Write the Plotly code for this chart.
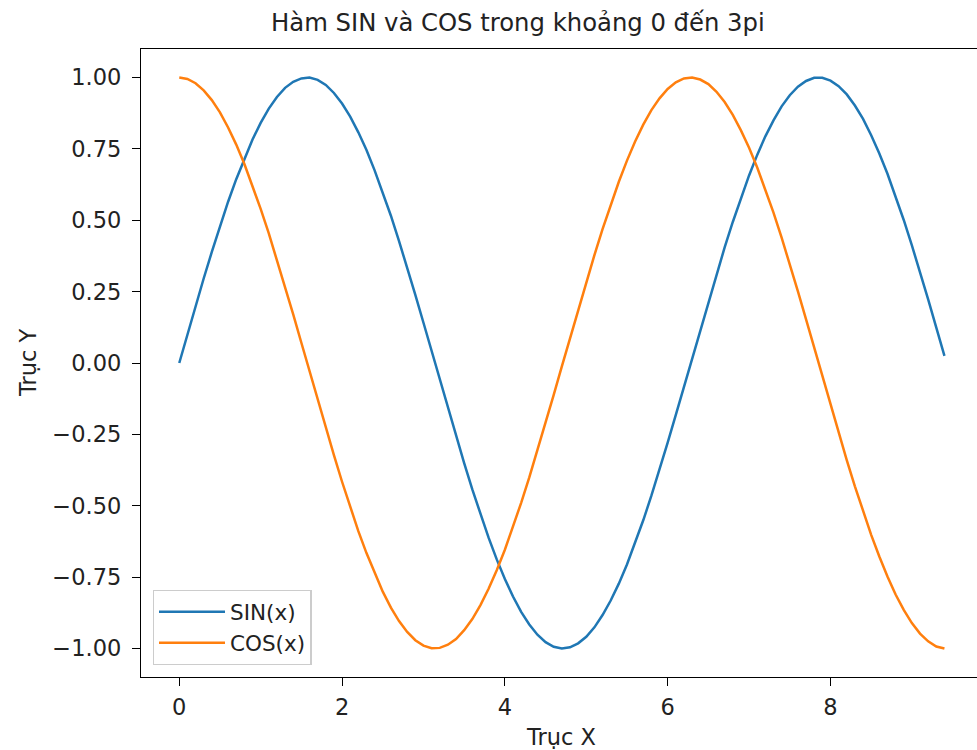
import plotly.graph_objects as go

x_values = [0.0, 0.1, 0.2, 0.3, 0.4, 0.5, 0.6, 0.7, 0.8, 0.9,
            1.0, 1.1, 1.2, 1.3, 1.4, 1.5, 1.6, 1.7, 1.8, 1.9,
            2.0, 2.1, 2.2, 2.3, 2.4, 2.5, 2.6, 2.7, 2.8, 2.9,
            3.0, 3.1, 3.2, 3.3, 3.4, 3.5, 3.6, 3.7, 3.8, 3.9,
            4.0, 4.1, 4.2, 4.3, 4.4, 4.5, 4.6, 4.7, 4.8, 4.9,
            5.0, 5.1, 5.2, 5.3, 5.4, 5.5, 5.6, 5.7, 5.8, 5.9,
            6.0, 6.1, 6.2, 6.3, 6.4, 6.5, 6.6, 6.7, 6.8, 6.9,
            7.0, 7.1, 7.2, 7.3, 7.4, 7.5, 7.6, 7.7, 7.8, 7.9,
            8.0, 8.1, 8.2, 8.3, 8.4, 8.5, 8.6, 8.7, 8.8, 8.9,
            9.0, 9.1, 9.2, 9.3, 9.4]

sin_values = [0.000, 0.100, 0.199, 0.296, 0.389, 0.479, 0.565, 0.644, 0.717, 0.783,
              0.841, 0.891, 0.932, 0.964, 0.985, 0.997, 1.000, 0.992, 0.974, 0.946,
              0.909, 0.863, 0.808, 0.746, 0.675, 0.598, 0.516, 0.427, 0.335, 0.239,
              0.141, 0.042, -0.058, -0.158, -0.256, -0.351, -0.443, -0.530, -0.612, -0.688,
              -0.757, -0.818, -0.872, -0.916, -0.952, -0.978, -0.994, -1.000, -0.996, -0.982,
              -0.959, -0.926, -0.883, -0.832, -0.773, -0.706, -0.631, -0.551, -0.465, -0.374,
              -0.279, -0.182, -0.083, 0.017, 0.117, 0.215, 0.312, 0.405, 0.494, 0.578,
              0.657, 0.729, 0.794, 0.850, 0.899, 0.938, 0.968, 0.988, 0.999, 0.999,
              0.989, 0.970, 0.941, 0.902, 0.855, 0.798, 0.734, 0.663, 0.585, 0.501,
              0.412, 0.319, 0.223, 0.124, 0.025]

cos_values = [1.000, 0.995, 0.980, 0.955, 0.921, 0.878, 0.825, 0.765, 0.697, 0.622,
              0.540, 0.454, 0.362, 0.267, 0.170, 0.071, -0.029, -0.129, -0.227, -0.323,
              -0.416, -0.505, -0.589, -0.666, -0.737, -0.801, -0.857, -0.904, -0.942, -0.971,
              -0.990, -0.999, -0.998, -0.987, -0.967, -0.936, -0.897, -0.848, -0.791, -0.726,
              -0.654, -0.575, -0.490, -0.401, -0.307, -0.211, -0.112, -0.012, 0.087, 0.187,
              0.284, 0.378, 0.469, 0.554, 0.635, 0.709, 0.776, 0.835, 0.886, 0.927,
              0.960, 0.983, 0.997, 1.000, 0.993, 0.977, 0.950, 0.914, 0.869, 0.815,
              0.754, 0.685, 0.609, 0.527, 0.439, 0.347, 0.251, 0.153, 0.054, -0.046,
              -0.146, -0.244, -0.340, -0.432, -0.519, -0.602, -0.678, -0.748, -0.811, -0.865,
              -0.911, -0.948, -0.975, -0.993, -1.000]

x_ticks = [0, 2, 4, 6, 8]
y_ticks = [-1.00, -0.75, -0.50, -0.25, 0.00, 0.25, 0.50, 0.75, 1.00]

FONT = "DejaVu Sans"
TXT = "#222222"
W, H = 977, 750
L, R, T, B = 141, 0, 49, 73
TICK_SIZE = 22.5

fig = go.Figure()
fig.add_trace(go.Scatter(x=x_values, y=sin_values, mode="lines", name="SIN(x)",
                         line=dict(color="#1f77b4", width=2.5)))
fig.add_trace(go.Scatter(x=x_values, y=cos_values, mode="lines", name="COS(x)",
                         line=dict(color="#ff7f0e", width=2.5)))

fig.update_layout(
    width=W, height=H,
    margin=dict(l=L, r=R, t=T, b=B, pad=0),
    paper_bgcolor="white", plot_bgcolor="white",
    font=dict(family=FONT, size=TICK_SIZE, color=TXT),
    showlegend=True,
    legend=dict(x=0.014, y=0.019, xanchor="left", yanchor="bottom",
                bgcolor="rgba(255,255,255,0.8)", bordercolor="#cccccc", borderwidth=1.3,
                font=dict(family=FONT, size=21.5, color=TXT),
                tracegroupgap=4, itemwidth=66),
    xaxis=dict(range=[-0.47, 9.80], tickvals=x_ticks, ticktext=[str(v) for v in x_ticks],
               showgrid=False, zeroline=False, showline=True, linecolor="black",
               linewidth=1.4, mirror=True, ticks="outside", ticklen=8, tickwidth=1.4,
               tickcolor="black", ticklabelstandoff=2,
               tickfont=dict(family=FONT, size=TICK_SIZE, color=TXT)),
    yaxis=dict(range=[-1.1, 1.1], tickvals=y_ticks, tickformat=".2f",
               showgrid=False, zeroline=False, showline=True, linecolor="black",
               linewidth=1.4, mirror=False, ticks="outside", ticklen=8, tickwidth=1.4,
               tickcolor="black", ticklabelstandoff=6,
               tickfont=dict(family=FONT, size=TICK_SIZE, color=TXT)),
)

fig.add_annotation(text="Hàm SIN và COS trong khoảng 0 đến 3pi",
                   xref="paper", yref="paper", x=(518 - L) / (W - L - R), y=1,
                   yshift=27, xanchor="center", yanchor="middle", showarrow=False,
                   font=dict(family=FONT, size=24.3, color=TXT))
fig.add_annotation(text="Trục X", xref="paper", yref="paper",
                   x=(561 - L) / (W - L - R), y=0, yshift=-(737 - (H - B)),
                   xanchor="center", yanchor="middle", showarrow=False,
                   font=dict(family=FONT, size=TICK_SIZE, color=TXT))
fig.add_annotation(text="Trục Y", xref="paper", yref="paper",
                   x=0, xshift=-(L - 28), y=0.5, textangle=-90,
                   xanchor="center", yanchor="middle", showarrow=False,
                   font=dict(family=FONT, size=TICK_SIZE, color=TXT))

fig.write_html("out.html")
